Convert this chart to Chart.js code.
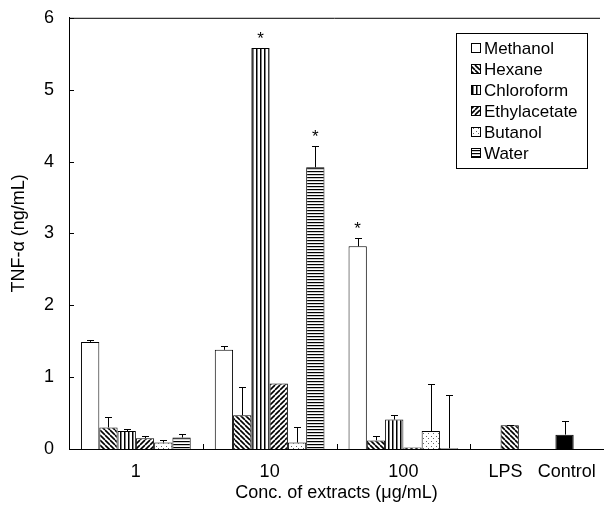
<!DOCTYPE html>
<html>
<head>
<meta charset="utf-8">
<title>TNF-α by extract</title>
<script src="https://cdn.jsdelivr.net/npm/chart.js"></script>
<style>
  html, body { margin:0; padding:0; background:#fff; }
  canvas { display:block; }
</style>
</head>
<body>
<canvas id="chart" width="604" height="516"></canvas>
<script>
// x groups: extract concentration (µg/mL), last slot holds the LPS / Control references
const groups = ['1', '10', '100', '  LPS   Control'];
const solvents = ['Methanol', 'Hexane', 'Chloroform', 'Ethylacetate', 'Butanol', 'Water'];

// TNF-α (ng/mL) at 1, 10, 100 µg/mL
const methanol     = [1.49, 1.38, 2.82];
const hexane       = [0.30, 0.47, 0.12];
const chloroform   = [0.25, 5.58, 0.41];
const ethylacetate = [0.15, 0.91, 0.02];
const butanol      = [0.09, 0.09, 0.25];
const water        = [0.16, 3.92, 0.01];

// upper error bars (SD)
const methanolErr     = [0.03, 0.06, 0.12];
const hexaneErr       = [0.14, 0.39, 0.06];
const chloroformErr   = [0.03, 0.00, 0.06];
const ethylacetateErr = [0.03, 0.00, 0.00];
const butanolErr      = [0.04, 0.21, 0.65];
const waterErr        = [0.05, 0.30, 0.74];

const lps = 0.33, lpsErr = 0.01;
const control = 0.20, controlErr = 0.19;

// significant vs control: [group index, solvent index]
const starred = [[1, 2], [1, 5], [2, 0]];

const FONT = "'Liberation Sans', Arial, sans-serif";

function tile(size, draw) {
  const c = document.createElement('canvas');
  c.width = size; c.height = size;
  const g = c.getContext('2d');
  g.fillStyle = '#fff';
  g.fillRect(0, 0, size, size);
  g.strokeStyle = '#000';
  g.fillStyle = '#000';
  draw(g, size);
  return document.getElementById('chart').getContext('2d').createPattern(c, 'repeat');
}

const fills = {
  Methanol: '#fff',
  Hexane: tile(5, (g, s) => {
    g.lineWidth = 1.6;
    for (let k = -s; k <= s; k += s) {
      g.beginPath(); g.moveTo(k, 0); g.lineTo(k + s, s); g.stroke();
    }
  }),
  Chloroform: tile(4, (g, s) => { g.fillRect(0, 0, 1.5, s); }),
  Ethylacetate: tile(5, (g, s) => {
    g.lineWidth = 1.6;
    for (let k = 0; k <= 2 * s; k += s) {
      g.beginPath(); g.moveTo(k, 0); g.lineTo(k - s, s); g.stroke();
    }
  }),
  Butanol: tile(5, (g) => { g.fillStyle = '#666'; g.fillRect(1, 1, 1, 1); g.fillRect(3, 3, 1, 1); }),
  Water: tile(3, (g, s) => { g.fillRect(0, 0, s, 1.2); })
};

const values = {
  Methanol: [...methanol, null],
  Hexane: [...hexane, lps],
  Chloroform: [...chloroform, null],
  Ethylacetate: [...ethylacetate, null],
  Butanol: [...butanol, control],
  Water: [...water, null]
};
const errors = {
  Methanol: [...methanolErr, null],
  Hexane: [...hexaneErr, lpsErr],
  Chloroform: [...chloroformErr, null],
  Ethylacetate: [...ethylacetateErr, null],
  Butanol: [...butanolErr, controlErr],
  Water: [...waterErr, null]
};

const datasets = solvents.map(name => ({
  label: name,
  data: values[name],
  // the control bar sits in the butanol slot and is solid black
  backgroundColor: values[name].map((v, i) => (name === 'Butanol' && i === 3) ? '#000' : fills[name]),
  borderColor: '#000',
  borderWidth: 1,
  barPercentage: 1,
  categoryPercentage: 0.82
}));

const extras = {
  id: 'extras',
  afterDatasetsDraw(chart) {
    const ctx = chart.ctx;
    const area = chart.chartArea;
    const y = chart.scales.y;
    const x = chart.scales.x;
    ctx.save();
    ctx.strokeStyle = '#000';
    ctx.lineWidth = 1;

    // error bars (upper only)
    chart.data.datasets.forEach((ds, di) => {
      const meta = chart.getDatasetMeta(di);
      const err = errors[ds.label];
      meta.data.forEach((bar, i) => {
        const v = ds.data[i];
        if (v == null || !err[i]) return;
        const px = Math.round(bar.x) + 0.5;
        const top = Math.round(y.getPixelForValue(v + err[i])) + 0.5;
        ctx.beginPath();
        ctx.moveTo(px, bar.y);
        ctx.lineTo(px, top);
        ctx.moveTo(px - 3.5, top);
        ctx.lineTo(px + 3.5, top);
        ctx.stroke();
      });
    });

    // asterisks
    ctx.fillStyle = '#000';
    ctx.font = '17px ' + FONT;
    ctx.textAlign = 'center';
    ctx.textBaseline = 'alphabetic';
    starred.forEach(([gi, si]) => {
      const name = solvents[si];
      const bar = chart.getDatasetMeta(si).data[gi];
      const v = values[name][gi] + (errors[name][gi] || 0);
      ctx.fillText('*', bar.x, y.getPixelForValue(v) - 4);
    });

    // top frame line
    ctx.beginPath();
    ctx.moveTo(area.left, area.top + 0.5);
    ctx.lineTo(600, area.top + 0.5);
    ctx.stroke();

    // inward y ticks
    for (let v = 0; v <= 6; v++) {
      const py = Math.round(y.getPixelForValue(v)) + 0.5;
      ctx.beginPath();
      ctx.moveTo(area.left, py);
      ctx.lineTo(area.left + 5, py);
      ctx.stroke();
    }
    // upward x ticks between groups
    for (let i = 0; i < groups.length - 1; i++) {
      const px = Math.round((x.getPixelForTick(i) + x.getPixelForTick(i + 1)) / 2) + 0.5;
      ctx.beginPath();
      ctx.moveTo(px, area.bottom);
      ctx.lineTo(px, area.bottom - 5);
      ctx.stroke();
    }

    // legend box
    const bx = 456.5, by = 33.5, bw = 131, bh = 135;
    ctx.strokeRect(bx, by, bw, bh);
    ctx.font = '17px ' + FONT;
    ctx.textAlign = 'left';
    ctx.textBaseline = 'middle';
    solvents.forEach((name, i) => {
      const cy = 48 + i * 21;
      ctx.fillStyle = fills[name];
      ctx.fillRect(471, cy - 4.5, 9, 9);
      ctx.strokeRect(471.5, cy - 4.5, 9, 9);
      ctx.fillStyle = '#000';
      ctx.fillText(name, 484, cy + 1);
    });
    ctx.restore();
  }
};

new Chart(document.getElementById('chart'), {
  type: 'bar',
  data: { labels: groups, datasets },
  plugins: [extras],
  options: {
    responsive: false,
    animation: false,
    layout: { padding: { top: 1, right: 0, left: 0, bottom: 0 } },
    plugins: { legend: { display: false }, tooltip: { enabled: false } },
    scales: {
      x: {
        grid: { display: false },
        border: { display: true, color: '#000', width: 1 },
        ticks: { color: '#000', font: { family: FONT, size: 18 }, padding: 4, maxRotation: 0, autoSkip: false },
        title: { display: true, text: 'Conc. of extracts (μg/mL)', color: '#000', font: { family: FONT, size: 18 }, padding: { top: 0, bottom: 12 } },
        afterFit: s => { s.height = 67; }
      },
      y: {
        min: 0, max: 6,
        grid: { display: false },
        border: { display: true, color: '#000', width: 1 },
        ticks: { stepSize: 1, color: '#000', font: { family: FONT, size: 18 }, padding: 7 },
        title: { display: true, text: 'TNF-α (ng/mL)', color: '#000', font: { family: FONT, size: 18 }, padding: { top: 8, bottom: 4 } },
        afterFit: s => { s.width = 69; }
      }
    }
  }
});
</script>
</body>
</html>
